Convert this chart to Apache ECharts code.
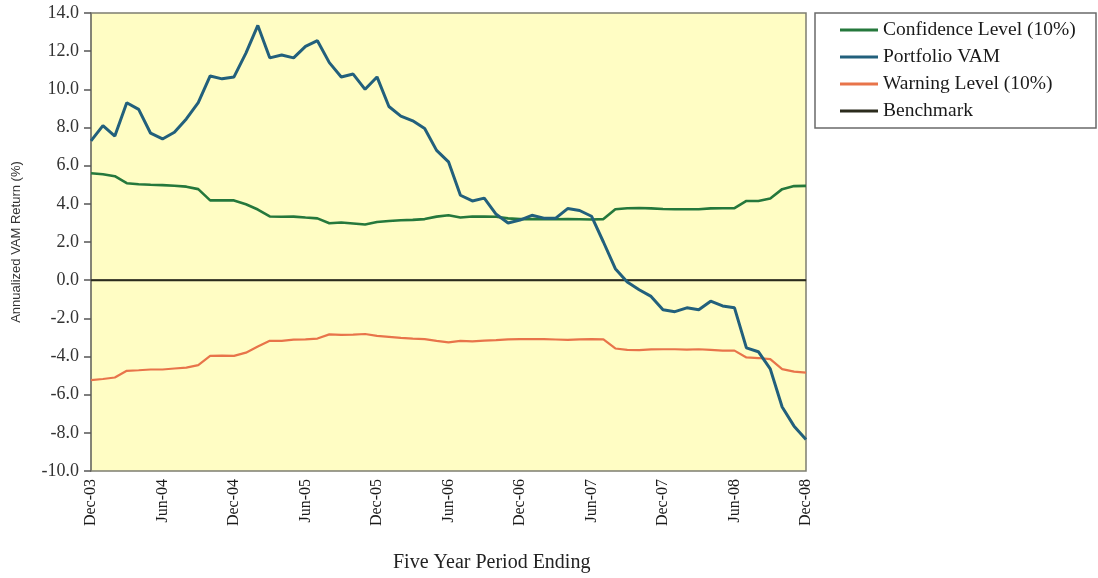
<!DOCTYPE html>
<html>
<head>
<meta charset="utf-8">
<title>Annualized VAM Return</title>
<script src="https://cdn.jsdelivr.net/npm/echarts@6/dist/echarts.min.js"></script>
<style>
  html, body { margin: 0; padding: 0; background: #ffffff; }
  #chart { width: 1098px; height: 578px; }
</style>
</head>
<body>
<div id="chart"></div>
<script>
// Month-end dates of each five-year period
const months = [
  'Dec-03','Jan-04','Feb-04','Mar-04','Apr-04','May-04','Jun-04','Jul-04','Aug-04','Sep-04','Oct-04','Nov-04',
  'Dec-04','Jan-05','Feb-05','Mar-05','Apr-05','May-05','Jun-05','Jul-05','Aug-05','Sep-05','Oct-05','Nov-05',
  'Dec-05','Jan-06','Feb-06','Mar-06','Apr-06','May-06','Jun-06','Jul-06','Aug-06','Sep-06','Oct-06','Nov-06',
  'Dec-06','Jan-07','Feb-07','Mar-07','Apr-07','May-07','Jun-07','Jul-07','Aug-07','Sep-07','Oct-07','Nov-07',
  'Dec-07','Jan-08','Feb-08','Mar-08','Apr-08','May-08','Jun-08','Jul-08','Aug-08','Sep-08','Oct-08','Nov-08',
  'Dec-08'
];

// Annualized returns (%)
const confidenceLevel = [
  5.60, 5.55, 5.45, 5.08, 5.03, 5.00, 4.98, 4.95, 4.90, 4.77, 4.18, 4.18,
  4.18, 3.98, 3.70, 3.34, 3.32, 3.33, 3.28, 3.24, 2.98, 3.02, 2.97, 2.92,
  3.05, 3.10, 3.14, 3.16, 3.20, 3.33, 3.40, 3.28, 3.34, 3.33, 3.32, 3.24,
  3.20, 3.20, 3.20, 3.19, 3.20, 3.19, 3.18, 3.20, 3.72, 3.77, 3.78, 3.76,
  3.73, 3.72, 3.72, 3.72, 3.76, 3.77, 3.77, 4.15, 4.15, 4.28, 4.77, 4.93,
  4.94
];

const portfolioVAM = [
  7.30, 8.10, 7.55, 9.30, 8.95, 7.70, 7.40, 7.75, 8.45, 9.30, 10.70, 10.55,
  10.65, 11.90, 13.35, 11.65, 11.80, 11.65, 12.25, 12.55, 11.40, 10.65, 10.80, 10.00,
  10.65, 9.10, 8.60, 8.35, 7.95, 6.80, 6.20, 4.45, 4.15, 4.30, 3.45, 3.00,
  3.15, 3.40, 3.25, 3.25, 3.75, 3.65, 3.35, 2.00, 0.60, -0.10, -0.50, -0.85,
  -1.55, -1.65, -1.45, -1.55, -1.10, -1.35, -1.45, -3.55, -3.75, -4.65, -6.65, -7.65,
  -8.35
];

const warningLevel = [
  -5.24, -5.18, -5.10, -4.75, -4.72, -4.68, -4.68, -4.63, -4.58, -4.45, -3.97, -3.95,
  -3.97, -3.80, -3.48, -3.18, -3.18, -3.12, -3.10, -3.06, -2.84, -2.87, -2.85, -2.82,
  -2.92, -2.97, -3.02, -3.06, -3.09, -3.18, -3.26, -3.18, -3.21, -3.17, -3.14, -3.10,
  -3.09, -3.09, -3.09, -3.11, -3.13, -3.10, -3.09, -3.10, -3.58, -3.65, -3.67, -3.63,
  -3.62, -3.62, -3.64, -3.62, -3.65, -3.69, -3.69, -4.05, -4.08, -4.14, -4.66, -4.79,
  -4.84
];

const benchmark = [
  0, 0, 0, 0, 0, 0, 0, 0, 0, 0, 0, 0,
  0, 0, 0, 0, 0, 0, 0, 0, 0, 0, 0, 0,
  0, 0, 0, 0, 0, 0, 0, 0, 0, 0, 0, 0,
  0, 0, 0, 0, 0, 0, 0, 0, 0, 0, 0, 0,
  0, 0, 0, 0, 0, 0, 0, 0, 0, 0, 0, 0,
  0
];

const seriesNames = ['Confidence Level (10%)', 'Portfolio VAM', 'Warning Level (10%)', 'Benchmark'];

const SERIF = '"Liberation Serif", "Times New Roman", serif';
const SANS = '"Liberation Sans", Arial, sans-serif';

const chart = echarts.init(document.getElementById('chart'), null, { renderer: 'canvas' });

function lineSeries(name, data, color, width, z) {
  return {
    name: name,
    type: 'line',
    data: data,
    symbol: 'none',
    smooth: false,
    z: z,
    itemStyle: { color: color },
    lineStyle: { color: color, width: width },
    emphasis: { disabled: true }
  };
}

chart.setOption({
  backgroundColor: '#ffffff',
  animation: false,
  grid: {
    left: 91, top: 13, width: 715, height: 458,
    show: true,
    backgroundColor: '#FFFDC4',
    borderColor: '#7d7d70',
    borderWidth: 1.5
  },
  legend: {
    data: seriesNames,
    orient: 'vertical',
    left: 840,
    top: 20,
    padding: 0,
    itemGap: 7,
    itemWidth: 38,
    itemHeight: 3,
    icon: 'rect',
    textStyle: { fontFamily: SERIF, fontSize: 19.5, color: '#1a1a1a', lineHeight: 20 }
  },
  graphic: [
    {
      type: 'rect',
      shape: { x: 815, y: 13, width: 281, height: 115 },
      style: { fill: 'transparent', stroke: '#6a6a6a', lineWidth: 1.5 },
      silent: true
    },
    {
      type: 'text',
      style: {
        x: 393, y: 563,
        text: 'Five Year Period Ending',
        font: '20px ' + SERIF,
        fill: '#222222',
        textAlign: 'left',
        textVerticalAlign: 'middle'
      },
      silent: true
    }
  ],
  xAxis: {
    type: 'category',
    data: months,
    boundaryGap: false,
    axisLine: { show: true, lineStyle: { color: '#7d7d70', width: 1.5 } },
    axisTick: { show: false },
    splitLine: { show: false },
    axisLabel: {
      interval: 5,
      rotate: 90,
      margin: 8,
      fontFamily: SERIF,
      fontSize: 16,
      color: '#1a1a1a'
    }
  },
  yAxis: {
    type: 'value',
    min: -10,
    max: 14,
    interval: 2,
    name: 'Annualized VAM Return (%)',
    nameLocation: 'middle',
    nameGap: 68,
    nameRotate: 90,
    nameTextStyle: { fontFamily: SANS, fontSize: 13, color: '#333333' },
    axisLine: { show: true, lineStyle: { color: '#7d7d70', width: 1.5 } },
    axisTick: { show: true, length: 7, lineStyle: { color: '#555555', width: 1.5 } },
    splitLine: { show: false },
    axisLabel: {
      margin: 12,
      fontFamily: SERIF,
      fontSize: 18,
      color: '#333333',
      formatter: function (v) { return v.toFixed(1); }
    }
  },
  series: [
    lineSeries(seriesNames[3], benchmark, '#2b2b1c', 2, 1),
    lineSeries(seriesNames[2], warningLevel, '#E8744A', 2.2, 2),
    lineSeries(seriesNames[0], confidenceLevel, '#25783C', 2.6, 3),
    lineSeries(seriesNames[1], portfolioVAM, '#22607C', 3, 4)
  ]
});
</script>
</body>
</html>
